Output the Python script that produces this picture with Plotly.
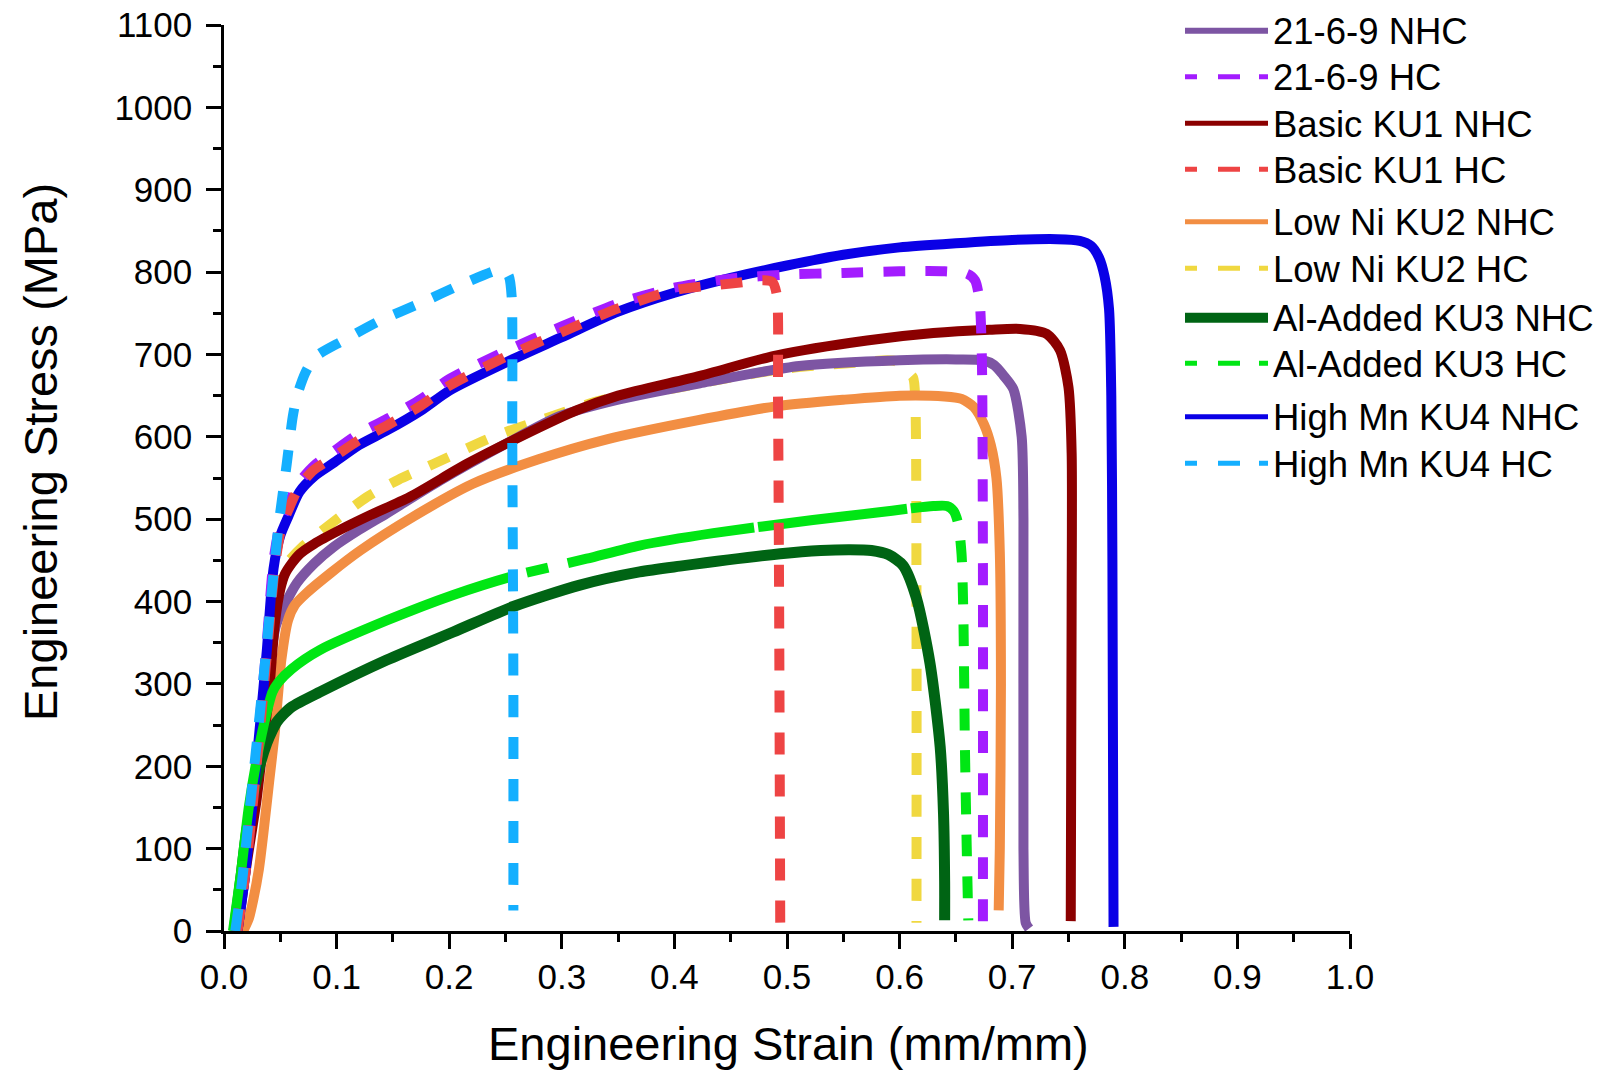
import plotly.graph_objects as go

# ---- tensile test data: engineering strain (mm/mm) vs engineering stress (MPa) ----
names = ["21-6-9 NHC", "21-6-9 HC", "Basic KU1 NHC", "Basic KU1 HC",
         "Low Ni KU2 NHC", "Low Ni KU2 HC", "Al-Added KU3 NHC", "Al-Added KU3 HC",
         "High Mn KU4 NHC", "High Mn KU4 HC"]

s_2169_nhc = [0.011, 0.018, 0.026, 0.033, 0.040, 0.046, 0.0527, 0.0645, 0.080, 0.097, 0.120,
              0.1445, 0.192, 0.251, 0.298, 0.350, 0.4227, 0.511, 0.600, 0.650, 0.674, 0.684,
              0.692, 0.701, 0.7084, 0.710, 0.710, 0.712, 0.715]
y_2169_nhc = [0, 70, 160, 250, 320, 370, 392, 422, 446, 466, 487,
              507, 547, 592, 625, 645, 665, 686, 693, 694, 693, 687,
              675, 658, 600, 500, 100, 10, 3]

s_2169_hc = [0.011, 0.018, 0.025, 0.032, 0.038, 0.044, 0.050, 0.057, 0.067, 0.080, 0.097,
             0.120, 0.145, 0.175, 0.200, 0.250, 0.300, 0.350, 0.400, 0.450, 0.500, 0.550,
             0.600, 0.640, 0.660, 0.667, 0.671, 0.673, 0.674, 0.674]
y_2169_hc = [0, 70, 160, 260, 350, 450, 495, 518, 545, 565, 582,
             604, 622, 646, 670, 704, 734, 762, 781, 792, 797, 799,
             801, 801, 798, 790, 765, 700, 450, 0]

s_ku1_nhc = [0.012, 0.020, 0.029, 0.035, 0.0394, 0.0453, 0.050, 0.054, 0.060, 0.0675, 0.080,
             0.103, 0.130, 0.165, 0.2155, 0.263, 0.313, 0.350, 0.4227, 0.491, 0.571, 0.630,
             0.680, 0.707, 0.7306, 0.7425, 0.750, 0.7528, 0.7528, 0.752]
y_ku1_nhc = [0, 80, 160, 230, 280, 375, 415, 433, 446, 458, 470,
             487, 505, 527, 567, 600, 632, 650, 674, 699, 717, 726,
             730, 731, 725, 705, 660, 580, 400, 12]

s_ku1_hc = [0.012, 0.019, 0.026, 0.033, 0.039, 0.045, 0.051, 0.058, 0.067, 0.080, 0.097,
            0.120, 0.145, 0.175, 0.200, 0.250, 0.300, 0.350, 0.400, 0.450, 0.479, 0.487,
            0.491, 0.492, 0.493, 0.494]
y_ku1_hc = [0, 70, 160, 260, 350, 440, 490, 514, 540, 560, 575,
            596, 614, 638, 662, 697, 727, 756, 778, 786, 790, 788,
            772, 650, 400, 5]

s_ku2_nhc = [0.017, 0.022, 0.026, 0.031, 0.035, 0.040, 0.045, 0.051, 0.057, 0.063, 0.073,
             0.095, 0.121, 0.168, 0.221, 0.280, 0.340, 0.420, 0.490, 0.550, 0.600, 0.640,
             0.655, 0.666, 0.675, 0.681, 0.686, 0.689, 0.690, 0.689, 0.688]
y_ku2_nhc = [0, 15, 38, 75, 119, 180, 240, 330, 378, 396, 410,
             435, 462, 503, 543, 573, 597, 620, 637, 645, 650, 649,
             646, 636, 615, 590, 550, 460, 300, 100, 25]

s_ku2_hc = [0.009, 0.017, 0.024, 0.031, 0.037, 0.043, 0.050, 0.057, 0.070, 0.088, 0.105,
            0.127, 0.155, 0.186, 0.239, 0.2895, 0.334, 0.400, 0.450, 0.500, 0.560, 0.596,
            0.606, 0.612, 0.614, 0.615, 0.615]
y_ku2_hc = [0, 60, 150, 240, 320, 390, 430, 448, 467, 487, 505,
            527, 548, 567, 600, 624, 644, 659, 672, 683, 690, 692,
            680, 672, 640, 400, 10]

s_ku3_nhc = [0.009, 0.015, 0.020, 0.026, 0.032, 0.038, 0.043, 0.047, 0.052, 0.060, 0.085,
             0.1445, 0.2036, 0.257, 0.316, 0.369, 0.405, 0.494, 0.530, 0.556, 0.575, 0.590,
             0.603, 0.615, 0.627, 0.636, 0.639, 0.640, 0.640]
y_ku3_nhc = [0, 65, 120, 165, 202, 228, 244, 254, 262, 272, 290,
             329, 363, 394, 420, 436, 443, 458, 462, 463, 462, 457,
             444, 404, 325, 224, 143, 60, 13]

s_ku3_hc = [0.008, 0.015, 0.022, 0.030, 0.037, 0.043, 0.0483, 0.060, 0.085, 0.1445, 0.2036,
            0.257, 0.322, 0.369, 0.4345, 0.523, 0.580, 0.609, 0.630, 0.642, 0.648, 0.652,
            0.655, 0.6566, 0.658, 0.6596, 0.661]
y_ku3_hc = [0, 70, 150, 215, 260, 290, 302, 318, 341, 377, 408,
            431, 452, 468, 483, 499, 508, 513, 516, 516, 510, 495,
            458, 385, 224, 102, 13]

s_ku4_nhc = [0.012, 0.018, 0.025, 0.032, 0.038, 0.044, 0.050, 0.057, 0.067, 0.080, 0.097,
             0.120, 0.145, 0.175, 0.200, 0.250, 0.300, 0.350, 0.400, 0.450, 0.500, 0.550,
             0.600, 0.650, 0.700, 0.740, 0.760, 0.770, 0.777, 0.782, 0.786, 0.788, 0.789, 0.790]
y_ku4_nhc = [0, 60, 150, 250, 340, 440, 480, 503, 533, 552, 568,
             590, 608, 632, 656, 690, 721, 752, 775, 793, 808, 821,
             830, 835, 839, 840, 838, 832, 818, 795, 755, 650, 450, 5]

s_ku4_hc = [0.010, 0.016, 0.023, 0.030, 0.036, 0.042, 0.048, 0.0557, 0.061, 0.0645, 0.072,
            0.081, 0.106, 0.1385, 0.174, 0.2125, 0.242, 0.249, 0.253, 0.2555, 0.256, 0.257, 0.257]
y_ku4_hc = [0, 60, 150, 240, 320, 406, 487, 567, 624, 648, 677,
            697, 717, 741, 762, 786, 802, 802, 795, 770, 600, 300, 25]

x_ticks = [0.0, 0.1, 0.2, 0.3, 0.4, 0.5, 0.6, 0.7, 0.8, 0.9, 1.0]
x_ticktext = ["0.0", "0.1", "0.2", "0.3", "0.4", "0.5", "0.6", "0.7", "0.8", "0.9", "1.0"]
y_ticks = [0, 100, 200, 300, 400, 500, 600, 700, 800, 900, 1000, 1100]

# ---- styling ----
FONT = "Liberation Sans, Arial, Helvetica, sans-serif"
C = {
    "21-6-9 NHC": "#7D55A3",
    "21-6-9 HC": "#A31CFF",
    "Basic KU1 NHC": "#8B0000",
    "Basic KU1 HC": "#EE4444",
    "Low Ni KU2 NHC": "#F28E43",
    "Low Ni KU2 HC": "#F0D840",
    "Al-Added KU3 NHC": "#006414",
    "Al-Added KU3 HC": "#00E614",
    "High Mn KU4 NHC": "#0A00E6",
    "High Mn KU4 HC": "#14AFFF",
}
DASH = "22px,20px"
# the Al-Added HC curve: long unbroken hardening segment, regular dashes on the drop
DASH_KU3 = "513px,15px,22px,20px,190px,4px,150px,4px,55px,20px," + ",".join(["22px,20px"] * 16)

series = {
    "21-6-9 NHC": (s_2169_nhc, y_2169_nhc, "solid", 10),
    "21-6-9 HC": (s_2169_hc, y_2169_hc, DASH, 10),
    "Basic KU1 NHC": (s_ku1_nhc, y_ku1_nhc, "solid", 10),
    "Basic KU1 HC": (s_ku1_hc, y_ku1_hc, DASH, 10),
    "Low Ni KU2 NHC": (s_ku2_nhc, y_ku2_nhc, "solid", 10),
    "Low Ni KU2 HC": (s_ku2_hc, y_ku2_hc, DASH, 10),
    "Al-Added KU3 NHC": (s_ku3_nhc, y_ku3_nhc, "solid", 11),
    "Al-Added KU3 HC": (s_ku3_hc, y_ku3_hc, DASH_KU3, 10),
    "High Mn KU4 NHC": (s_ku4_nhc, y_ku4_nhc, "solid", 10),
    "High Mn KU4 HC": (s_ku4_hc, y_ku4_hc, DASH, 10),
}

# stacking order, bottom to top
draw_order = ["Low Ni KU2 HC", "21-6-9 NHC", "Low Ni KU2 NHC", "Basic KU1 NHC",
              "Al-Added KU3 NHC", "High Mn KU4 NHC", "Al-Added KU3 HC", "21-6-9 HC",
              "Basic KU1 HC", "High Mn KU4 HC"]

fig = go.Figure()
for n in draw_order:
    xs, ys, dash, w = series[n]
    fig.add_trace(go.Scatter(
        x=xs, y=ys, mode="lines", name=n, showlegend=False,
        line=dict(color=C[n], width=w, dash=dash, shape="spline", smoothing=0.7),
        hoverinfo="skip",
    ))

# ---- page geometry (pixels) ----
W, H = 1610, 1071
PL, PR, PT, PB = 224, 1350, 25, 931


def px_x(px):
    return (px - PL) / (PR - PL)


def px_y(py):
    return (PB - py) / (PB - PT)


# ---- legend drawn as line samples + labels ----
legend_rows = [30.7, 76.7, 123.3, 169.3, 221.7, 268.3, 317.7, 363.3, 416.7, 463.3]
legend_width = {"21-6-9 NHC": 6, "Al-Added KU3 NHC": 10}
shapes = []
annotations = []
for n, ry in zip(names, legend_rows):
    is_hc = series[n][2] != "solid"
    shapes.append(dict(
        type="line", xref="paper", yref="paper",
        x0=px_x(1185), x1=px_x(1268), y0=px_y(ry), y1=px_y(ry),
        line=dict(color=C[n], width=legend_width.get(n, 5),
                  dash="12px,21px,22px,19px,9px,100px" if is_hc else "solid"),
    ))
    annotations.append(dict(
        text=n, xref="paper", yref="paper", x=px_x(1271), y=px_y(ry + 1),
        xanchor="left", yanchor="middle", showarrow=False,
        font=dict(family=FONT, size=36.5, color="black"),
    ))

# axis titles
annotations.append(dict(
    text="Engineering Strain (mm/mm)", xref="paper", yref="paper",
    x=px_x(788), y=px_y(1043), xanchor="center", yanchor="middle", showarrow=False,
    font=dict(family=FONT, size=47, color="black"),
))
annotations.append(dict(
    text="Engineering Stress (MPa)", xref="paper", yref="paper",
    x=px_x(41), y=px_y(452), xanchor="center", yanchor="middle", showarrow=False,
    textangle=-90, font=dict(family=FONT, size=47, color="black"),
))

axis_common = dict(
    showgrid=False, zeroline=False, showline=True, linecolor="black", linewidth=2.5,
    ticks="outside", ticklen=15, tickwidth=2.5, tickcolor="black",
    tickfont=dict(family=FONT, size=35, color="black"),
    mirror=False, fixedrange=True,
)

fig.update_layout(
    width=W, height=H,
    margin=dict(l=PL, r=W - PR, t=PT, b=H - PB, pad=0, autoexpand=False),
    paper_bgcolor="white", plot_bgcolor="white",
    xaxis=dict(range=[0, 1.0], tickvals=x_ticks, ticktext=x_ticktext,
               minor=dict(dtick=0.05, ticks="outside", ticklen=8, tickwidth=2.5, tickcolor="black"),
               ticklabelstandoff=-2, **axis_common),
    yaxis=dict(range=[0, 1100], tickvals=y_ticks,
               minor=dict(dtick=50, ticks="outside", ticklen=8, tickwidth=2.5, tickcolor="black"),
               ticklabelstandoff=7, **axis_common),
    shapes=shapes, annotations=annotations,
    showlegend=False,
)

fig.write_html("out.html", config={"displayModeBar": False})
